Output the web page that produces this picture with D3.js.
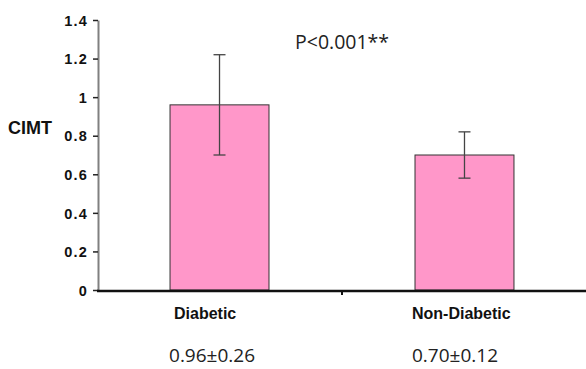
<!DOCTYPE html>
<html>
<head>
<meta charset="utf-8">
<script src="https://cdn.jsdelivr.net/npm/d3@7"></script>
<style>
  body { margin: 0; background: #fff; }
  svg text { font-family: "Liberation Sans", Arial, sans-serif; }
</style>
</head>
<body>
<div id="chart"></div>
<script>
// data
const categories = ['Diabetic', 'Non-Diabetic'];
const means = [0.96, 0.70];
const sds = [0.26, 0.12];
const summaryLabels = ['0.96\u00b10.26', '0.70\u00b10.12'];
const yTicks = [0, 0.2, 0.4, 0.6, 0.8, 1, 1.2, 1.4];

const width = 586;
const height = 369;
const margin = { top: 20, right: 0, bottom: 79, left: 98 };

const svg = d3.select('#chart')
    .append('svg')
    .attr('width', width)
    .attr('height', height);

const x = d3.scaleBand()
    .domain(categories)
    .range([margin.left, width])
    .paddingInner(0.596)
    .paddingOuter(0.294);

const y = d3.scaleLinear()
    .domain([0, 1.4])
    .range([height - margin.bottom, margin.top]);

// y axis
const yAxis = svg.append('g')
    .attr('transform', `translate(${margin.left},0)`)
    .call(d3.axisLeft(y).tickValues(yTicks).tickSize(5).tickSizeOuter(0)
        .tickFormat(d => d3.format('~g')(d)));
yAxis.select('.domain').attr('stroke', '#808080').attr('stroke-width', 2);
yAxis.selectAll('.tick line').attr('stroke', '#222').attr('stroke-width', 1.5);
yAxis.selectAll('.tick text')
    .attr('x', -10)
    .attr('dy', '0.36em')
    .attr('font-size', 14.5)
    .attr('letter-spacing', 1.2)
    .attr('font-weight', 'bold')
    .attr('fill', '#111');

// bars
svg.selectAll('rect.bar')
    .data(categories)
    .join('rect')
    .attr('class', 'bar')
    .attr('x', d => x(d))
    .attr('y', (d, i) => y(means[i]))
    .attr('width', x.bandwidth())
    .attr('height', (d, i) => y(0) - y(means[i]))
    .attr('fill', '#ff97c9')
    .attr('stroke', '#333')
    .attr('stroke-width', 1);

// error bars
const err = svg.selectAll('g.err')
    .data(categories)
    .join('g')
    .attr('class', 'err')
    .attr('stroke', '#444')
    .attr('stroke-width', 1.3);

err.append('line')
    .attr('x1', d => x(d) + x.bandwidth() / 2)
    .attr('x2', d => x(d) + x.bandwidth() / 2)
    .attr('y1', (d, i) => y(means[i] - sds[i]))
    .attr('y2', (d, i) => y(means[i] + sds[i]));

[-1, 1].forEach(s => {
    err.append('line')
        .attr('x1', d => x(d) + x.bandwidth() / 2 - 6)
        .attr('x2', d => x(d) + x.bandwidth() / 2 + 6)
        .attr('y1', (d, i) => y(means[i] + s * sds[i]))
        .attr('y2', (d, i) => y(means[i] + s * sds[i]));
});

// x axis
svg.append('line')
    .attr('x1', margin.left - 1)
    .attr('x2', width)
    .attr('y1', y(0) + 1)
    .attr('y2', y(0) + 1)
    .attr('stroke', '#111')
    .attr('stroke-width', 2.5);

const midX = (x(categories[0]) + x.bandwidth() + x(categories[1])) / 2;
svg.append('line')
    .attr('x1', midX)
    .attr('x2', midX)
    .attr('y1', y(0))
    .attr('y2', y(0) + 5)
    .attr('stroke', '#111')
    .attr('stroke-width', 2);

// label offsets from each bar's left edge
const catShift = [4, -3];
const sumShift = [-1, -3];

svg.selectAll('text.cat')
    .data(categories)
    .join('text')
    .attr('class', 'cat')
    .attr('x', (d, i) => x(d) + catShift[i])
    .attr('y', 319)
    .attr('font-size', 16)
    .attr('font-weight', 'bold')
    .attr('fill', '#111')
    .text(d => d);

svg.selectAll('text.summary')
    .data(summaryLabels)
    .join('text')
    .attr('class', 'summary')
    .attr('x', (d, i) => x(categories[i]) + sumShift[i])
    .attr('y', 362)
    .attr('font-size', 19)
    .attr('fill', '#222')
    .style('font-family', '"Open Sans", sans-serif')
    .text(d => d);

// y label
svg.append('text')
    .attr('x', 8)
    .attr('y', 134)
    .attr('font-size', 18)
    .attr('font-weight', 'bold')
    .attr('fill', '#111')
    .text('CIMT');

// significance
svg.append('text')
    .attr('x', 295)
    .attr('y', 49)
    .attr('font-size', 19.5)
    .attr('fill', '#222')
    .style('font-family', '"Open Sans", sans-serif')
    .text('P<0.001**');
</script>
</body>
</html>
